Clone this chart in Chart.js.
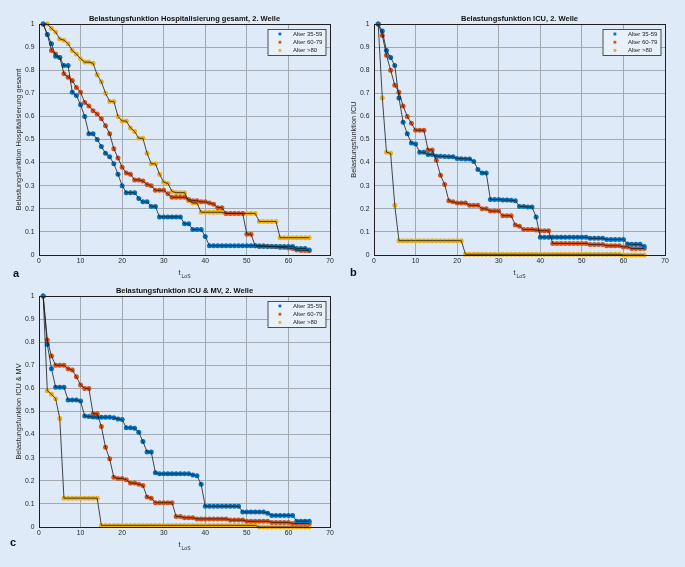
<!DOCTYPE html>
<html lang="de">
<head>
<meta charset="UTF-8">
<title>Belastungsfunktion, 2. Welle</title>
<style>
    body {
        margin: 0;
        width: 685px;
        height: 567px;
        position: relative;
        overflow: hidden;
        background-color: #deeaf7;
        font-family: "Liberation Sans", Arial, sans-serif;
    }
    canvas { position: absolute; }
    .panel-letter {
        position: absolute;
        font-weight: bold;
        font-size: 11px;
        line-height: 11px;
        color: #111;
    }
</style>
<script src="https://cdn.jsdelivr.net/npm/chart.js"></script>
</head>
<body>

<canvas id="chartA" width="345" height="285" style="left:0;top:0"></canvas>
<canvas id="chartB" width="345" height="285" style="left:335px;top:0"></canvas>
<canvas id="chartC" width="345" height="285" style="left:0;top:272px"></canvas>
<div class="panel-letter" style="left:13px;top:268px">a</div>
<div class="panel-letter" style="left:350px;top:267px">b</div>
<div class="panel-letter" style="left:10px;top:537px">c</div>

<script>
    // days since admission (t_LoS)
    const days = [1,2,3,4,5,6,7,8,9,10,11,12,13,14,15,16,17,18,19,20,21,22,23,24,25,26,27,28,29,30,
        31,32,33,34,35,36,37,38,39,40,41,42,43,44,45,46,47,48,49,50,51,52,53,54,55,56,57,58,59,60,61,62,63,64,65];

    const seriesLabels = ['Alter 35-59', 'Alter 60-79', 'Alter >80'];
    const seriesColors = ['#0072bd', '#d95319', '#edb120'];
    const xTickValues = [0, 10, 20, 30, 40, 50, 60, 70];
    const yTickValues = [0, 0.1, 0.2, 0.3, 0.4, 0.5, 0.6, 0.7, 0.8, 0.9, 1];

    // (a) Hospitalisierung gesamt
    const hosp35 = [1.0,0.955,0.915,0.86,0.855,0.82,0.82,0.705,0.69,0.65,
        0.6,0.525,0.525,0.5,0.47,0.44,0.425,0.395,0.35,0.3,
        0.27,0.27,0.27,0.245,0.23,0.23,0.21,0.21,0.165,0.165,
        0.165,0.165,0.165,0.165,0.135,0.135,0.11,0.11,0.11,0.08,
        0.04,0.04,0.04,0.04,0.04,0.04,0.04,0.04,0.04,0.04,
        0.04,0.04,0.037,0.037,0.037,0.037,0.037,0.037,0.037,0.037,
        0.037,0.028,0.028,0.028,0.022];
    const hosp60 = [1.0,0.955,0.885,0.87,0.855,0.785,0.77,0.755,0.725,0.705,
        0.66,0.645,0.625,0.61,0.59,0.56,0.525,0.46,0.42,0.38,
        0.355,0.35,0.325,0.325,0.32,0.305,0.3,0.28,0.28,0.28,
        0.265,0.25,0.25,0.25,0.25,0.24,0.235,0.235,0.23,0.23,
        0.225,0.22,0.205,0.205,0.18,0.18,0.18,0.18,0.18,0.09,
        0.09,0.04,0.04,0.04,0.038,0.037,0.036,0.033,0.032,0.03,
        0.028,0.022,0.02,0.02,0.018];
    const hosp80 = [1.0,1.0,0.98,0.965,0.935,0.93,0.915,0.885,0.87,0.85,
        0.835,0.835,0.83,0.78,0.75,0.7,0.665,0.665,0.6,0.58,
        0.58,0.55,0.535,0.505,0.505,0.44,0.395,0.395,0.35,0.315,
        0.31,0.275,0.27,0.27,0.27,0.235,0.225,0.225,0.185,0.185,
        0.185,0.185,0.185,0.185,0.18,0.18,0.18,0.18,0.18,0.18,
        0.18,0.18,0.145,0.145,0.145,0.145,0.145,0.075,0.075,0.075,
        0.075,0.075,0.075,0.075,0.075];

    // (b) ICU
    const icu35 = [1.0,0.97,0.885,0.855,0.82,0.68,0.575,0.525,0.485,0.48,
        0.445,0.445,0.435,0.435,0.428,0.427,0.426,0.425,0.425,0.418,
        0.417,0.416,0.416,0.405,0.37,0.355,0.355,0.24,0.24,0.24,
        0.238,0.238,0.237,0.235,0.21,0.21,0.208,0.208,0.165,0.077,
        0.077,0.077,0.077,0.077,0.077,0.077,0.077,0.077,0.077,0.077,
        0.077,0.072,0.072,0.072,0.072,0.067,0.067,0.067,0.067,0.067,
        0.048,0.046,0.046,0.046,0.037];
    const icu60 = [1.0,0.95,0.865,0.8,0.735,0.705,0.645,0.6,0.57,0.54,
        0.54,0.54,0.455,0.455,0.41,0.345,0.305,0.235,0.23,0.225,
        0.225,0.225,0.215,0.215,0.215,0.2,0.2,0.19,0.19,0.19,
        0.17,0.17,0.17,0.13,0.125,0.11,0.11,0.11,0.108,0.105,
        0.105,0.105,0.05,0.05,0.05,0.05,0.05,0.05,0.05,0.05,
        0.05,0.045,0.045,0.045,0.045,0.04,0.04,0.04,0.04,0.035,
        0.035,0.028,0.028,0.028,0.028];
    const icu80 = [1.0,0.68,0.445,0.44,0.215,0.062,0.062,0.062,0.062,0.062,
        0.062,0.062,0.062,0.062,0.062,0.062,0.062,0.062,0.062,0.062,
        0.062,0.003,0.003,0.003,0.003,0.003,0.003,0.003,0.003,0.003,
        0.003,0.003,0.003,0.003,0.003,0.003,0.003,0.003,0.003,0.003,
        0.003,0.003,0.003,0.003,0.003,0.003,0.003,0.003,0.003,0.003,
        0.003,0.003,0.003,0.003,0.003,0.003,0.003,0.003,0.003,0,
        0,0,0,0,0];

    // (c) ICU & MV
    const mv35 = [1.0,0.79,0.685,0.605,0.605,0.605,0.55,0.55,0.55,0.545,
        0.48,0.478,0.476,0.475,0.475,0.475,0.475,0.473,0.468,0.465,
        0.43,0.43,0.427,0.41,0.37,0.325,0.325,0.235,0.23,0.23,
        0.23,0.23,0.23,0.23,0.23,0.23,0.225,0.222,0.185,0.09,
        0.09,0.09,0.09,0.09,0.09,0.09,0.09,0.09,0.065,0.065,
        0.065,0.065,0.065,0.065,0.06,0.05,0.05,0.05,0.05,0.05,
        0.05,0.025,0.025,0.025,0.025];
    const mv60 = [1.0,0.81,0.74,0.7,0.7,0.7,0.685,0.68,0.65,0.615,
        0.6,0.6,0.49,0.49,0.435,0.345,0.295,0.215,0.21,0.21,
        0.205,0.19,0.19,0.185,0.18,0.13,0.125,0.105,0.105,0.105,
        0.105,0.105,0.045,0.045,0.04,0.04,0.04,0.035,0.035,0.035,
        0.035,0.035,0.035,0.035,0.035,0.03,0.03,0.03,0.03,0.025,
        0.025,0.025,0.025,0.025,0.025,0.02,0.02,0.02,0.02,0.02,
        0.015,0.015,0.015,0.015,0.015];
    const mv80 = [1.0,0.59,0.575,0.555,0.47,0.125,0.125,0.125,0.125,0.125,
        0.125,0.125,0.125,0.125,0.007,0.007,0.007,0.007,0.007,0.007,
        0.007,0.007,0.007,0.007,0.007,0.007,0.007,0.007,0.007,0.007,
        0.007,0.007,0.007,0.007,0.007,0.007,0.007,0.007,0.007,0.007,
        0.007,0.007,0.007,0.007,0.007,0.007,0.007,0.007,0.007,0.007,
        0.007,0.007,0,0,0,0,0,0,0,0,
        0,0,0,0,0];

    const tickFont = { family: '"Liberation Sans", Arial, sans-serif', size: 6.8 };
    const textColor = '#262626';

    // axes box, title, x label with subscript and the legend box inside the plot
    const panelPlugin = {
        id: 'panel',
        afterDraw(chart, args, opts) {
            const { ctx, chartArea: a } = chart;
            ctx.save();
            ctx.strokeStyle = '#1f1f1f';
            ctx.lineWidth = 1;
            ctx.strokeRect(a.left + 0.5, a.top + 0.5, a.right - a.left, a.bottom - a.top);

            const cx = (a.left + a.right) / 2;
            ctx.fillStyle = '#111';
            ctx.textAlign = 'center';
            ctx.textBaseline = 'middle';
            ctx.font = 'bold 7.5px "Liberation Sans", Arial, sans-serif';
            ctx.fillText(opts.title, cx, a.top - 5);

            // t with subscript LoS
            ctx.fillStyle = textColor;
            ctx.textAlign = 'left';
            ctx.textBaseline = 'alphabetic';
            ctx.font = '7.3px "Liberation Sans", Arial, sans-serif';
            const wt = ctx.measureText('t').width;
            ctx.font = '5px "Liberation Sans", Arial, sans-serif';
            const ws = ctx.measureText('LoS').width;
            const x0 = cx - (wt + ws + 1) / 2;
            ctx.font = '7.3px "Liberation Sans", Arial, sans-serif';
            ctx.fillText('t', x0, a.bottom + 20);
            ctx.font = '5px "Liberation Sans", Arial, sans-serif';
            ctx.fillText('LoS', x0 + wt + 1, a.bottom + 22.5);

            // legend
            const lw = 58, lh = 26;
            const lx = a.right - 4.5 - lw, ly = a.top + 5;
            ctx.fillStyle = '#e8f0fa';
            ctx.fillRect(lx, ly, lw, lh);
            ctx.strokeStyle = '#262626';
            ctx.lineWidth = 0.8;
            ctx.strokeRect(lx + 0.5, ly + 0.5, lw, lh);
            ctx.font = '6px "Liberation Sans", Arial, sans-serif';
            ctx.textBaseline = 'middle';
            chart.data.datasets.filter(d => d.inLegend).forEach((d, i) => {
                const ry = ly + 5 + i * 8.2;
                ctx.fillStyle = d.pointBackgroundColor;
                ctx.fillRect(lx + 11, ry - 1.4, 2.8, 2.8);
                ctx.fillStyle = textColor;
                ctx.fillText(d.label, lx + 25.5, ry);
            });
            ctx.restore();
        }
    };

    function makeChart(canvasId, title, yTitle, seriesValues) {
        const datasets = [];
        seriesValues.forEach((vals, i) => {
            const pts = days.map((d, k) => ({ x: d, y: vals[k] }));
            // coloured markers
            datasets.push({
                label: seriesLabels[i],
                inLegend: true,
                data: pts,
                showLine: false,
                pointRadius: 2.5,
                pointBorderWidth: 0,
                pointBackgroundColor: seriesColors[i],
                pointBorderColor: seriesColors[i],
                clip: false,
                order: 1
            });
            // thin black connecting line on top
            datasets.push({
                label: seriesLabels[i] + ' line',
                data: pts,
                borderColor: '#1a1a1a',
                borderWidth: 0.8,
                pointRadius: 0,
                tension: 0,
                clip: false,
                order: 0
            });
        });

        return new Chart(document.getElementById(canvasId), {
            type: 'line',
            data: { datasets },
            options: {
                responsive: false,
                animation: false,
                events: [],
                layout: { padding: { top: 24, right: 15, left: 0, bottom: 0 } },
                scales: {
                    x: {
                        type: 'linear',
                        min: 0,
                        max: 70,
                        afterFit: s => { s.height = 30; },
                        afterBuildTicks: s => { s.ticks = xTickValues.map(v => ({ value: v })); },
                        grid: { color: '#a3a9b0', lineWidth: 1, drawTicks: false },
                        border: { display: false },
                        ticks: { font: tickFont, color: textColor, padding: 2.4, maxRotation: 0,
                                 callback: v => String(v) }
                    },
                    y: {
                        min: 0,
                        max: 1,
                        afterFit: s => { s.width = 39; },
                        afterBuildTicks: s => { s.ticks = yTickValues.map(v => ({ value: v })); },
                        grid: { color: '#a3a9b0', lineWidth: 1, drawTicks: false },
                        border: { display: false },
                        ticks: { font: tickFont, color: textColor, padding: 4.5,
                                 callback: v => String(Math.round(v * 10) / 10) },
                        title: {
                            display: true,
                            text: yTitle,
                            color: textColor,
                            font: { family: '"Liberation Sans", Arial, sans-serif', size: 7.3 },
                            padding: { top: 14.9, bottom: 0 }
                        }
                    }
                },
                plugins: {
                    legend: { display: false },
                    tooltip: { enabled: false },
                    panel: { title }
                }
            },
            plugins: [panelPlugin]
        });
    }

    makeChart('chartA', 'Belastungsfunktion Hospitalisierung gesamt, 2. Welle',
        'Belastungsfunktion Hospitalisierung gesamt', [hosp35, hosp60, hosp80]);
    makeChart('chartB', 'Belastungsfunktion ICU, 2. Welle',
        'Belastungsfunktion ICU', [icu35, icu60, icu80]);
    makeChart('chartC', 'Belastungsfunktion ICU & MV, 2. Welle',
        'Belastungsfunktion ICU & MV', [mv35, mv60, mv80]);
</script>

</body>
</html>
